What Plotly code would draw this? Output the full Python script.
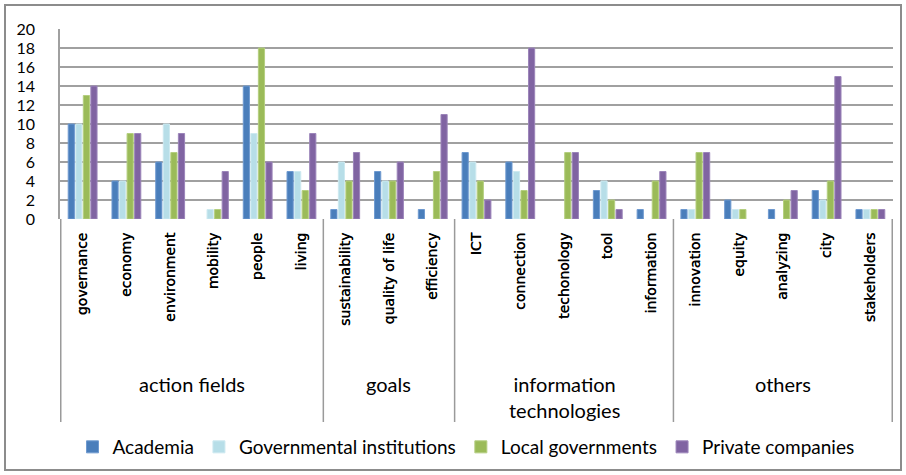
import plotly.graph_objects as go

categories = ["governance", "economy", "environment", "mobility", "people", "living",
              "sustainability", "quality of life", "efficiency",
              "ICT", "connection", "techonology", "tool", "information",
              "innovation", "equity", "analyzing", "city", "stakeholders"]
group_names = ["action fields", "goals", "information<br>technologies", "others"]
group_sizes = [6, 3, 5, 5]

academia = [10, 4, 6, 0, 14, 5, 1, 5, 1, 7, 6, 0, 3, 1, 1, 2, 1, 3, 1]
governmental = [10, 4, 10, 1, 9, 5, 6, 4, 0, 6, 5, 0, 4, 0, 1, 1, 0, 2, 1]
local_gov = [13, 9, 7, 1, 18, 3, 4, 4, 5, 4, 3, 7, 2, 4, 7, 1, 2, 4, 1]
private = [14, 9, 9, 5, 6, 9, 7, 6, 11, 2, 18, 7, 1, 5, 7, 0, 3, 15, 1]

series = [
    ("Academia", academia, "#4A7EBB", "#6F9AD0"),
    ("Governmental institutions", governmental, "#B7DEE8", "#CDE9F0"),
    ("Local governments", local_gov, "#9BBB59", "#B5CF80"),
    ("Private companies", private, "#8064A2", "#9C85BA"),
]

fig = go.Figure()
for name, vals, col, lcol in series:
    fig.add_trace(go.Bar(x=categories, y=vals, name=name,
                         marker=dict(color=col,
                                     line=dict(color=lcol,
                                               width=[1 if v > 0 else 0 for v in vals]))))

W, H = 906, 475
L, R, T, B = 60, 13, 29, 256
pw = W - L - R
ph = H - T - B

def py(ypx):
    return (H - B - ypx) / ph

def px(xpx):
    return (xpx - L) / pw

shapes = []
annotations = []
txtfont = "Lato, Carlito, Calibri, sans-serif"
start = -0.5
bounds = [start]
for s in group_sizes:
    bounds.append(bounds[-1] + s)
for b in bounds:
    shapes.append(dict(type="line", xref="x", yref="paper", x0=b, x1=b,
                       y0=0, y1=py(422), line=dict(color="#9A9A9A", width=1.5)))
for i, g in enumerate(group_names):
    cx = (bounds[i] + bounds[i + 1]) / 2
    annotations.append(dict(x=cx, xref="x", y=py(370), yref="paper", text=g,
                            showarrow=False, yanchor="top", xanchor="center",
                            font=dict(family=txtfont, size=20, color="#000000")))

# outer chart border
shapes.append(dict(type="rect", xref="paper", yref="paper",
                   x0=px(5), x1=px(901), y0=py(470), y1=py(5),
                   line=dict(color="#8C8C8C", width=2)))

fig.update_layout(
    width=W, height=H,
    margin=dict(l=L, r=R, t=T, b=B, autoexpand=False),
    paper_bgcolor="white", plot_bgcolor="white",
    barmode="group", bargap=0.31, bargroupgap=0.18,
    shapes=shapes, annotations=annotations,
    showlegend=True,
    legend=dict(orientation="h", x=px(466), xanchor="center", y=py(428), yanchor="top",
                font=dict(family=txtfont, size=19, color="#000000"),
                itemwidth=30, traceorder="normal"),
    xaxis=dict(type="category", tickangle=-90, showgrid=False, ticks="",
               showline=False, zeroline=False, automargin=False, ticklabelstandoff=10,
               tickfont=dict(family="DejaVu Sans", size=14, color="#000000",
                             shadow="0.5px 0px 0px #000000")),
    yaxis=dict(range=[0, 20], dtick=2, showgrid=True, gridcolor="#A0A0A0", gridwidth=1.5,
               showline=True, linecolor="#A0A0A0", linewidth=1.5, zeroline=False,
               ticks="", ticklabelstandoff=20, automargin=False,
               tickfont=dict(family=txtfont, size=16, color="#000000")),
)

fig.write_html("out.html")
